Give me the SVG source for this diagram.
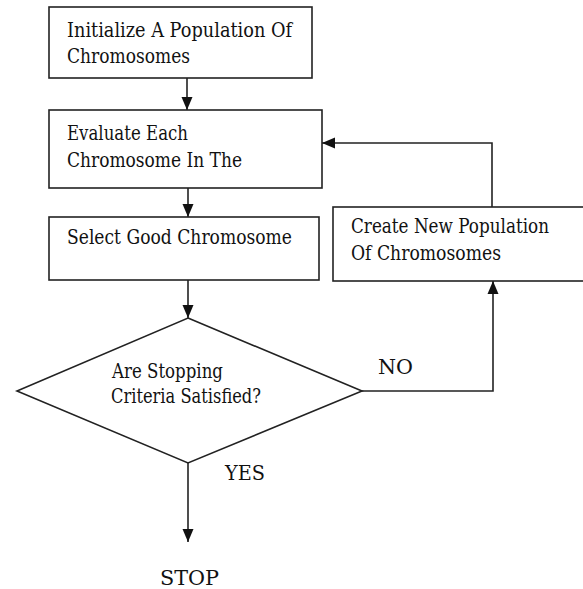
<svg xmlns="http://www.w3.org/2000/svg" width="583" height="589" viewBox="0 0 583 589">
<defs>
<style>
.box{fill:#fff;stroke:#222;stroke-width:1.6}
.ln{fill:none;stroke:#222;stroke-width:1.6}
text{font-family:'DejaVu Serif',serif;font-size:19.5px;fill:#111}
</style>
<marker id="ah" markerUnits="userSpaceOnUse" markerWidth="14" markerHeight="12" refX="13" refY="6" orient="auto">
<path d="M0,0.5 L13,6 L0,11.5 z" fill="#111"/>
</marker>
</defs>
<rect width="583" height="589" fill="#fff"/>
<g id="connectors">
<line class="ln" x1="187" y1="78" x2="187" y2="110" marker-end="url(#ah)"/>
<line class="ln" x1="188" y1="188" x2="188" y2="217" marker-end="url(#ah)"/>
<line class="ln" x1="188" y1="280" x2="188" y2="318" marker-end="url(#ah)"/>
<line class="ln" x1="188" y1="463" x2="188" y2="542" marker-end="url(#ah)"/>
<polyline class="ln" points="362,391 493,391 493,281" marker-end="url(#ah)"/>
<polyline class="ln" points="492,207 492,143 322,143" marker-end="url(#ah)"/>
<text x="378" y="374" textLength="35" lengthAdjust="spacingAndGlyphs">NO</text>
<text x="225" y="480" textLength="40" lengthAdjust="spacingAndGlyphs">YES</text>
</g>
<g id="init">
<rect class="box" x="49" y="7" width="263" height="71"/>
<text x="67" y="37" textLength="225" lengthAdjust="spacingAndGlyphs">Initialize A Population Of</text>
<text x="67" y="63" textLength="123" lengthAdjust="spacingAndGlyphs">Chromosomes</text>
</g>
<g id="evaluate">
<rect class="box" x="49" y="110" width="273" height="78"/>
<text x="67" y="140" textLength="121" lengthAdjust="spacingAndGlyphs">Evaluate Each</text>
<text x="67" y="167" textLength="175" lengthAdjust="spacingAndGlyphs">Chromosome In The</text>
</g>
<g id="select">
<rect class="box" x="49" y="217" width="270" height="63"/>
<text x="67" y="244" textLength="225" lengthAdjust="spacingAndGlyphs">Select Good Chromosome</text>
</g>
<g id="create">
<rect class="box" x="333" y="207" width="260" height="74"/>
<text x="351" y="233" textLength="198" lengthAdjust="spacingAndGlyphs">Create New Population</text>
<text x="351" y="260" textLength="150" lengthAdjust="spacingAndGlyphs">Of Chromosomes</text>
</g>
<g id="decision">
<polygon class="box" points="188,318 362,391 188,463 17,391"/>
<text x="112" y="378" textLength="111" lengthAdjust="spacingAndGlyphs">Are Stopping</text>
<text x="111" y="403" textLength="150" lengthAdjust="spacingAndGlyphs">Criteria Satisfied?</text>
</g>
<g id="stop">
<text x="160" y="585" textLength="59" lengthAdjust="spacingAndGlyphs">STOP</text>
</g>
</svg>
